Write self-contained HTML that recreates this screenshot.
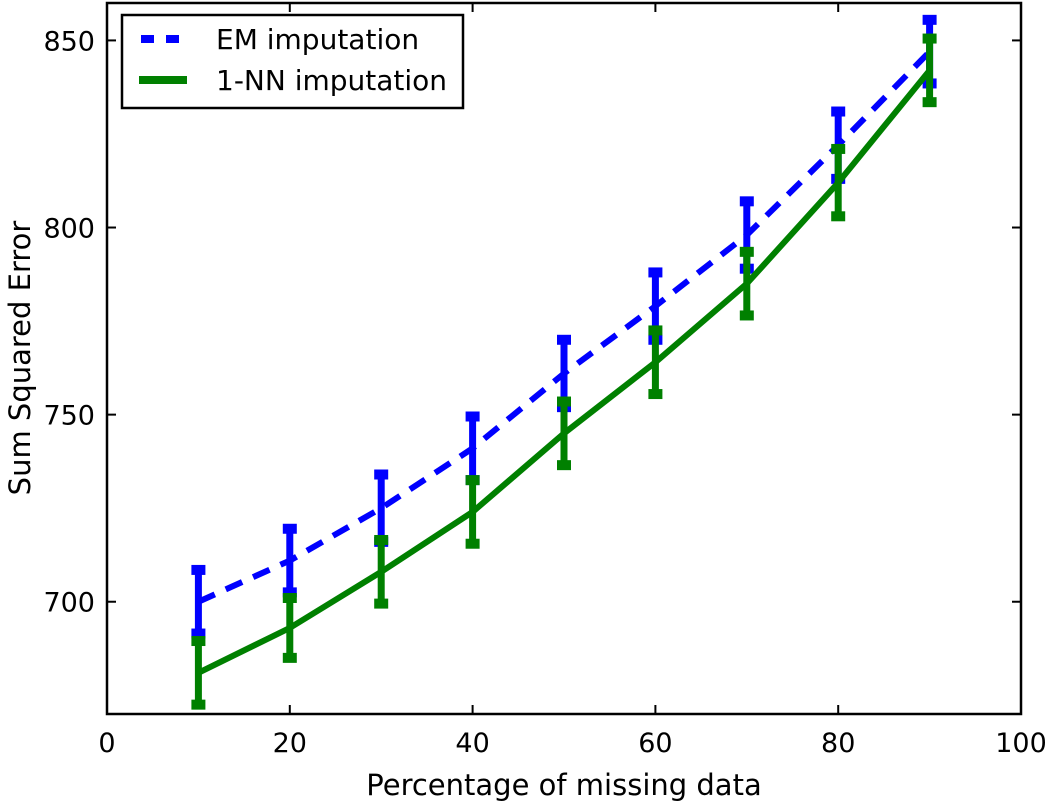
<!DOCTYPE html>
<html><head><meta charset="utf-8"><style>
body{margin:0;background:#fff;}
svg{display:block;font-family:"DejaVu Sans","Liberation Sans",sans-serif;}
</style></head><body>
<svg id="chart" width="1050" height="805"></svg>
<script>
const categories=[10,20,30,40,50,60,70,80,90];
const emMean=[700,711,725,741,761,779,798,822,847];
const emErr=[8.5,8.5,9,8.5,9,9,9,9,8.5];
const nnMean=[681,693,708,724,745,764,785,812,842];
const nnErr=[8.5,8,8.5,8.5,8.5,8.5,8.5,9,8.5];
const xTicks=[0,20,40,60,80,100];
const yTicks=[700,750,800,850];
const L=107,R=1021,T=3,B=714;
const xs=v=>L+(v-0)/(100)*(R-L);
const ys=v=>B-(v-670)/(860-670)*(B-T);
const svg=document.getElementById('chart');
const NS='http://www.w3.org/2000/svg';
function mk(t,a,p){const e=document.createElementNS(NS,t);for(const k in a)e.setAttribute(k,a[k]);(p||svg).appendChild(e);return e;}
xTicks.forEach(v=>{const x=xs(v);
 const t=mk('line',{x1:x,x2:x,y1:B,y2:B-9,stroke:'#000','stroke-width':2});
 
 const t2=mk('line',{x1:x,x2:x,y1:T,y2:T+9,stroke:'#000','stroke-width':2});
 
 const l=mk('text',{x:x,y:B+38,'text-anchor':'middle','font-size':27});l.textContent=v;
 });
yTicks.forEach(v=>{const y=ys(v);
 const t=mk('line',{x1:L,x2:L+9,y1:y,y2:y,stroke:'#000','stroke-width':2});
 
 const t2=mk('line',{x1:R,x2:R-9,y1:y,y2:y,stroke:'#000','stroke-width':2});
 
 const l=mk('text',{x:L-12,y:y+10,'text-anchor':'end','font-size':27});l.textContent=v;
 });
function series(mean,err,color,dash,name){
 const g=mk('g',{});
 
 categories.forEach((c,i)=>{const x=xs(c),y1=ys(mean[i]+err[i]),y2=ys(mean[i]-err[i]);
  const b=mk('line',{x1:x,x2:x,y1:y1,y2:y2,stroke:color,'stroke-width':7},g);
  
  [y1,y2].forEach(y=>{const c2=mk('rect',{x:x-7,y:y-5,width:14,height:10,fill:color},g);
   });});
 const p=mk('polyline',{points:categories.map((c,i)=>xs(c)+','+ys(mean[i])).join(' '),fill:'none',stroke:color,'stroke-width':6,'stroke-dasharray':dash||''},g);
 
}
series(emMean,emErr,'#0000ff','18,12','em-series');
series(nnMean,nnErr,'#008000','','nn-series');
const frame=mk('rect',{x:L,y:T,width:R-L,height:B-T,fill:'none',stroke:'#000','stroke-width':2.5});

const lg=mk('g',{});
mk('rect',{x:122,y:15,width:341,height:93,fill:'#fff',stroke:'#000','stroke-width':2.5},lg);
mk('line',{x1:141,x2:179,y1:39,y2:39,stroke:'#0000ff','stroke-width':8,'stroke-dasharray':'13,12'},lg);
mk('line',{x1:139,x2:187,y1:80,y2:80,stroke:'#008000','stroke-width':8},lg);
const t1=mk('text',{x:216,y:49,'font-size':28},lg);t1.textContent='EM imputation';

const t2=mk('text',{x:216,y:90,'font-size':28},lg);t2.textContent='1-NN imputation';

const xt=mk('text',{x:564,y:795,'text-anchor':'middle','font-size':29});xt.textContent='Percentage of missing data';

const yt=mk('text',{x:0,y:0,'text-anchor':'middle','font-size':29,transform:'translate(30,358) rotate(-90)'});yt.textContent='Sum Squared Error';

</script>
</body></html>
